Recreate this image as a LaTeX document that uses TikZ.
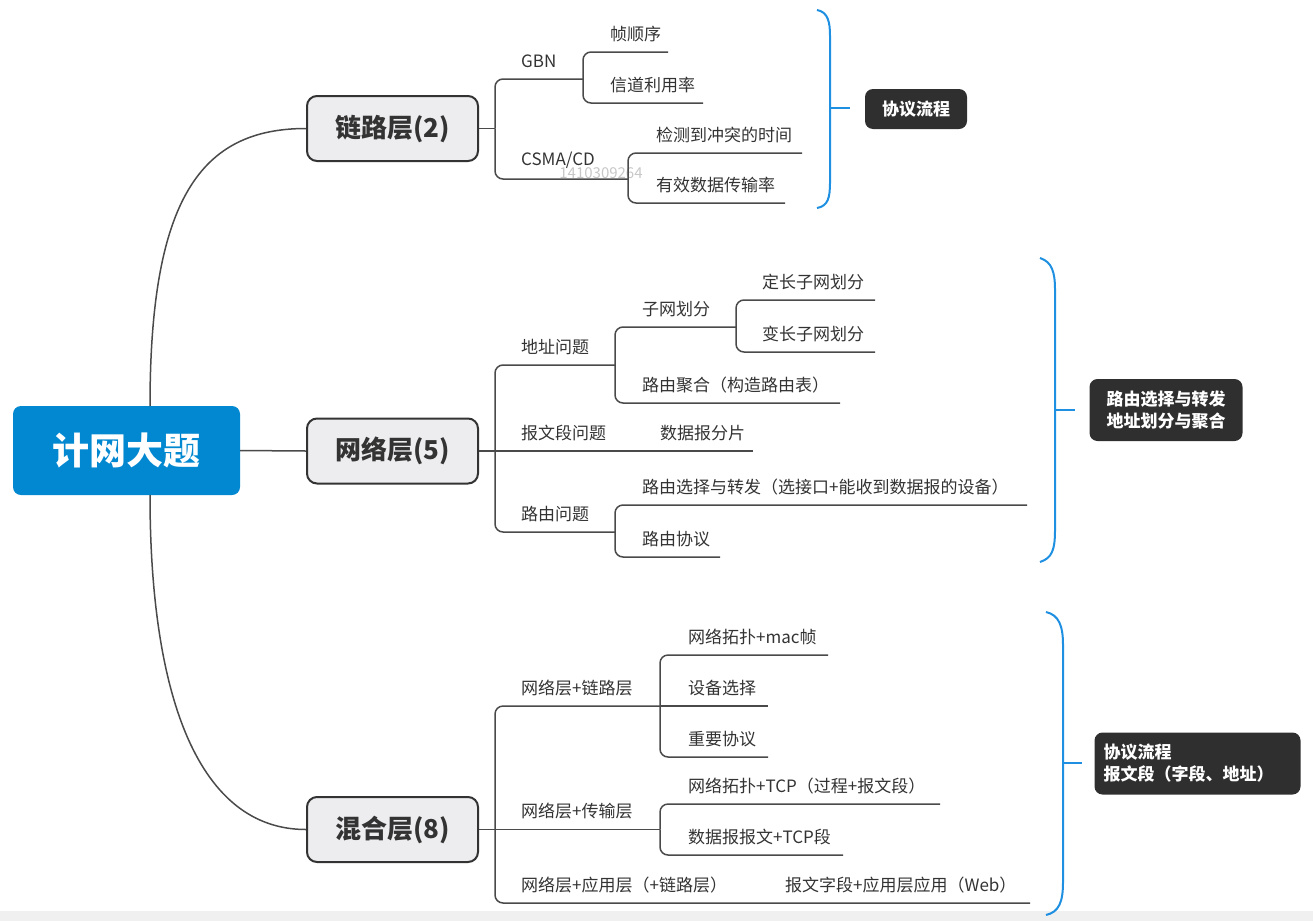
\documentclass[tikz,border=0pt]{standalone}
\usepackage{fontspec}
\setmainfont{Noto Sans CJK SC}
\usetikzlibrary{positioning}
\definecolor{rootblue}{HTML}{0288D1}
\definecolor{bracecol}{HTML}{1E8FE1}
\definecolor{linecol}{HTML}{4A4A4A}
\definecolor{txt}{HTML}{333333}
\definecolor{boxfill}{HTML}{EDEDF0}
\definecolor{tagfill}{HTML}{2F2F2F}
\tikzset{
  conn/.style={draw=linecol, line width=1.5pt, rounded corners=8pt},
  brace/.style={draw=bracecol, line width=2pt},
  rootnode/.style={fill=rootblue, rounded corners=8pt, minimum width=227pt, minimum height=89pt,
    text=white, font=\fontsize{37}{40}\selectfont\bfseries, inner sep=0},
  layer/.style={draw=txt, line width=2pt, fill=boxfill, rounded corners=10pt,
    minimum width=171pt, minimum height=65pt, text=txt,
    font=\fontsize{26}{30}\selectfont\bfseries, inner sep=0},
  leaf/.style={anchor=west, inner sep=0, text=txt, font=\fontsize{17}{20}\selectfont},
  tag/.style={fill=tagfill, rounded corners=8pt, text=white, inner sep=0,
    font=\fontsize{17}{22}\selectfont\bfseries},
}
\begin{document}
\begin{tikzpicture}[x=1pt,y=-1pt]
\useasboundingbox (0,0) rectangle (1313,921);
\fill[black!6] (0,911) rectangle (1313,921);

% root and the three layers
\node[rootnode] (root) at (126.5,450.5) {计网大题};
\node[layer] (lian) at (392.5,128.5) {链路层(2)};
\node[layer] (wang) at (392.5,451) {网络层(5)};
\node[layer] (hun)  at (392.5,829.5) {混合层(8)};

\coordinate (rt) at (150,406);
\coordinate (rb) at (150,495);
\draw[conn] (rt) .. controls (150,200) and (200,128.5) .. (lian.west);
\draw[conn] (rb) .. controls (150,700) and (200,829.5) .. (hun.west);
\draw[conn] (root.east) -- (wang.west);

% ---------- 链路层 ----------
\node[leaf] (gbn)  at (521,61)  {GBN};
\node[leaf] (csma) at (521,160) {CSMA/CD};
\node[leaf] (zsx)  at (610,34)  {帧顺序};
\node[leaf] (xdl)  at (610,85)  {信道利用率};
\node[leaf] (jc)   at (656,135) {检测到冲突的时间};
\node[leaf] (yx)   at (656,185) {有效数据传输率};
\node[text=black!22, font=\fontsize{15}{18}\selectfont, inner sep=0] (wm) at (601,173) {1410309264};

\coordinate (j1) at (495,128.5);
\coordinate (gbnj) at (583,79);
\coordinate (csj) at (628,179);
\draw[conn] (lian.east) -- (j1);
\draw[conn] (j1) |- (gbnj);
\draw[conn] (j1) |- (csj);
\coordinate (zsxe) at (668,52);
\coordinate (xdle) at (703,103);
\coordinate (jce) at (802,153);
\coordinate (yxe) at (785,203);
\draw[conn] (gbnj) |- (zsxe);
\draw[conn] (gbnj) |- (xdle);
\draw[conn] (csj) |- (jce);
\draw[conn] (csj) |- (yxe);

% ---------- 网络层 ----------
\node[leaf] (dz)   at (521,347) {地址问题};
\node[leaf] (zw)   at (642,309) {子网划分};
\node[leaf] (dc)   at (762,282) {定长子网划分};
\node[leaf] (bc)   at (762,334) {变长子网划分};
\node[leaf] (jh)   at (642,385) {路由聚合（构造路由表）};
\node[leaf] (bw)   at (521,433) {报文段问题};
\node[leaf] (fp)   at (660,433) {数据报分片};
\node[leaf] (ly)   at (521,514) {路由问题};
\node[leaf] (xz)   at (642,487) {路由选择与转发（选接口+能收到数据报的设备）};
\node[leaf] (xy)   at (642,539) {路由协议};

\coordinate (j2) at (495,451);
\coordinate (dzj) at (615,365);
\coordinate (zwj) at (736,327);
\coordinate (lyj) at (615,532);
\coordinate (fpe) at (753,451);
\draw[conn] (wang.east) -- (fpe);
\draw[conn] (j2) |- (dzj);
\draw[conn] (j2) |- (lyj);
\coordinate (dce) at (875,300);
\coordinate (bce) at (875,352);
\coordinate (jhe) at (840,403);
\coordinate (xze) at (1027,505);
\coordinate (xye) at (720,557);
\draw[conn] (dzj) |- (zwj);
\draw[conn] (dzj) |- (jhe);
\draw[conn] (zwj) |- (dce);
\draw[conn] (zwj) |- (bce);
\draw[conn] (lyj) |- (xze);
\draw[conn] (lyj) |- (xye);

% ---------- 混合层 ----------
\node[leaf] (wl)  at (521,688) {网络层+链路层};
\node[leaf] (mac) at (688,637) {网络拓扑+mac帧};
\node[leaf] (sb)  at (688,688) {设备选择};
\node[leaf] (zy)  at (688,739) {重要协议};
\node[leaf] (wc)  at (521,811) {网络层+传输层};
\node[leaf] (tcp) at (688,786) {网络拓扑+TCP（过程+报文段）};
\node[leaf] (sj)  at (688,837) {数据报报文+TCP段};
\node[leaf] (wy)  at (521,885) {网络层+应用层（+链路层）};
\node[leaf] (web) at (785,885) {报文字段+应用层应用（Web）};

\coordinate (j3) at (495,829.5);
\coordinate (wlj) at (660,706);
\coordinate (wcj) at (660,829.5);
\coordinate (wye) at (1030,903);
\draw[conn] (hun.east) -- (wcj);
\draw[conn] (j3) |- (wlj);
\draw[conn] (j3) |- (wye);
\coordinate (mace) at (828,655);
\coordinate (sbe) at (768,706);
\coordinate (zye) at (768,757);
\coordinate (tcpe) at (940,804);
\coordinate (sje) at (843,855);
\draw[conn] (wlj) |- (mace);
\draw[conn] (wlj) -- (sbe);
\draw[conn] (wlj) |- (zye);
\draw[conn] (wcj) |- (tcpe);
\draw[conn] (wcj) |- (sje);

% ---------- summary braces and tags ----------
\node[tag, minimum width=102pt, minimum height=40pt] (t1) at (916,109) {协议流程};
\node[tag, minimum width=153pt, minimum height=62pt, align=center] (t2) at (1166,410)
  {路由选择与转发\\地址划分与聚合};
\node[tag, minimum width=206pt, minimum height=62pt, align=left, text width=188pt] (t3) at (1197.5,763.5)
  {协议流程\\报文段（字段、地址）};

\coordinate (b1m) at (830,108);
\coordinate (b1t) at (850,108);
\draw[brace] (817,10) .. controls (828,12) and (830,22) .. (830,36) -- (830,182)
  .. controls (830,198) and (828,206) .. (817,208);
\draw[brace] (b1m) -- (b1t);

\coordinate (b2m) at (1055,410);
\coordinate (b2t) at (1075,410);
\draw[brace] (1040,258) .. controls (1052,262) and (1055,272) .. (1055,290) -- (1055,530)
  .. controls (1055,550) and (1052,558) .. (1040,562);
\draw[brace] (b2m) -- (b2t);

\coordinate (b3m) at (1063,763);
\coordinate (b3t) at (1082,763);
\draw[brace] (1046,612) .. controls (1059,615) and (1063,626) .. (1063,645) -- (1063,882)
  .. controls (1063,902) and (1059,912) .. (1046,915);
\draw[brace] (b3m) -- (b3t);
\end{tikzpicture}
\end{document}
